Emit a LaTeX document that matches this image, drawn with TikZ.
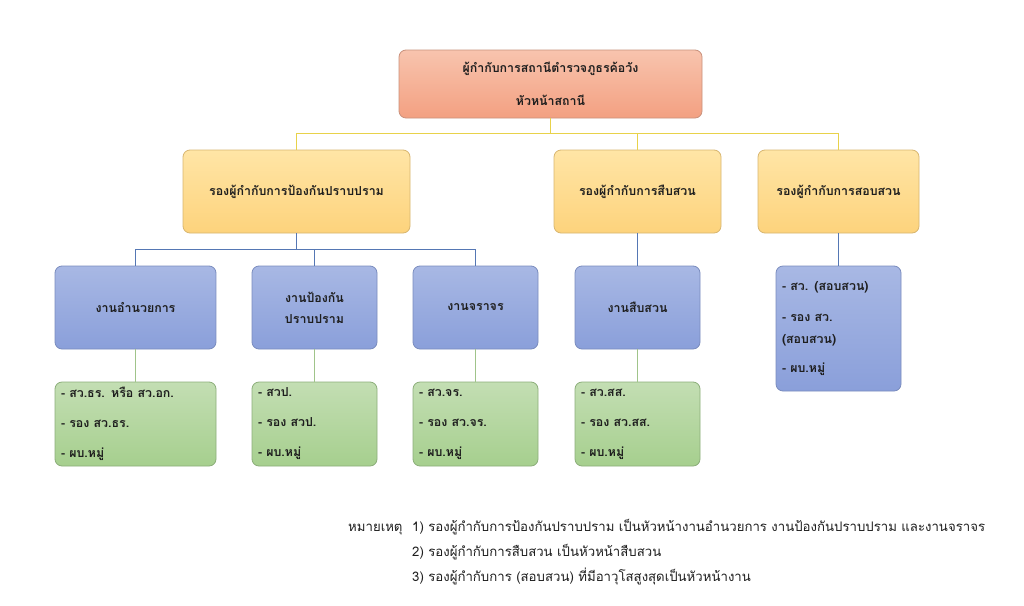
\documentclass[tikz,border=0pt]{standalone}
\usepackage{fontspec}
\newfontfamily\thai[Script=Thai]{Loma}
\definecolor{txt}{HTML}{1E1E1E}
\definecolor{redT}{HTML}{F8C4AE}
\definecolor{redB}{HTML}{F3A081}
\definecolor{redD}{HTML}{C9917C}
\definecolor{yelT}{HTML}{FFE5A6}
\definecolor{yelB}{HTML}{FDD37C}
\definecolor{yelD}{HTML}{D8B670}
\definecolor{bluT}{HTML}{A8B8E4}
\definecolor{bluB}{HTML}{8A9FDA}
\definecolor{bluD}{HTML}{7A8CBE}
\definecolor{grnT}{HTML}{C3DEB3}
\definecolor{grnB}{HTML}{A6CF8E}
\definecolor{grnD}{HTML}{8CAE7A}
\definecolor{ylin}{HTML}{E8D24A}
\definecolor{blin}{HTML}{5577B4}
\definecolor{glin}{HTML}{A0C48A}
\tikzset{
  box/.style={rectangle, rounded corners=7pt, line width=0.8pt, text=txt, inner sep=0pt,
    font=\thai\bfseries\fontsize{12.4}{21}\selectfont, align=center},
  topbox/.style={box, draw=redD, top color=redT, bottom color=redB, minimum width=303pt, minimum height=68pt, font=\thai\bfseries\fontsize{12.4}{33}\selectfont},
  ybox/.style={box, draw=yelD, top color=yelT, bottom color=yelB, minimum height=83pt},
  bbox/.style={box, draw=bluD, top color=bluT, bottom color=bluB, minimum height=83pt, minimum width=125pt},
  gbox/.style={box, draw=grnD, top color=grnT, bottom color=grnB, minimum height=84pt, minimum width=125pt,
    align=left, font=\thai\bfseries\fontsize{12.4}{30}\selectfont},
  yl/.style={draw=ylin, line width=1pt},
  bl/.style={draw=blin, line width=1pt},
  gl/.style={draw=glin, line width=1pt},
  note/.style={anchor=base west, inner sep=0pt, text=txt, font=\thai\fontsize{13.2}{15}\selectfont}
}
\begin{document}
\begin{tikzpicture}[x=1pt,y=-1pt]
\useasboundingbox[fill=white] (0,0) rectangle (1024,605);
% level 1
\node[topbox] (top) at (550.5,84) {ผู้กำกับการสถานีตำรวจภูธรค้อวัง\\หัวหน้าสถานี};
% level 2
\node[ybox, minimum width=227pt] (A) at (296.5,191.5) {รองผู้กำกับการป้องกันปราบปราม};
\node[ybox, minimum width=167pt] (B) at (637.5,191.5) {รองผู้กำกับการสืบสวน};
\node[ybox, minimum width=161pt] (C) at (838.5,191.5) {รองผู้กำกับการสอบสวน};
% level 3
\node[bbox, minimum width=161pt] (b1) at (135.5,307.5) {งานอำนวยการ};
\node[bbox] (b2) at (314.5,307.5) {งานป้องกัน\\ปราบปราม};
\node[bbox] (b3) at (475.5,307.5) {งานจราจร};
\node[bbox] (b4) at (637.5,307.5) {งานสืบสวน};
\node[bbox, minimum height=125pt, align=left, text width=113pt] (b5) at (838.5,328.5)
  {\fontsize{12.4}{22}\selectfont - สว. (สอบสวน)\\[9pt]- รอง สว.\\(สอบสวน)\\[8pt]- ผบ.หมู่};
% level 4
\node[gbox, minimum width=161pt, text width=149pt] (g1) at (135.5,424) {- สว.ธร. หรือ สว.อก.\\- รอง สว.ธร.\\- ผบ.หมู่};
\node[gbox, text width=113pt] (g2) at (314.5,424) {- สวป.\\- รอง สวป.\\- ผบ.หมู่};
\node[gbox, text width=113pt] (g3) at (475.5,424) {- สว.จร.\\- รอง สว.จร.\\- ผบ.หมู่};
\node[gbox, text width=113pt] (g4) at (637.5,424) {- สว.สส.\\- รอง สว.สส.\\- ผบ.หมู่};
% connectors
\draw[yl] (top.south) -- (top.south |- 0,133) -| (A.north);
\draw[yl] (top.south) -- (top.south |- 0,133) -| (B.north);
\draw[yl] (top.south) -- (top.south |- 0,133) -| (C.north);
\draw[bl] (A.south) -- (A.south |- 0,249) -| (b1.north);
\draw[bl] (A.south) -- (A.south |- 0,249) -| (b2.north);
\draw[bl] (A.south) -- (A.south |- 0,249) -| (b3.north);
\draw[bl] (B.south) -- (b4.north);
\draw[bl] (C.south) -- (b5.north);
\draw[gl] (b1.south) -- (g1.north);
\draw[gl] (b2.south) -- (g2.north);
\draw[gl] (b3.south) -- (g3.north);
\draw[gl] (b4.south) -- (g4.north);
% notes
\node[note] (n0) at (348,531) {หมายเหตุ};
\node[note] (n1) at (412,531) {1) รองผู้กำกับการป้องกันปราบปราม เป็นหัวหน้างานอำนวยการ งานป้องกันปราบปราม และงานจราจร};
\node[note] (n2) at (412,556) {2) รองผู้กำกับการสืบสวน เป็นหัวหน้าสืบสวน};
\node[note] (n3) at (412,581) {3) รองผู้กำกับการ (สอบสวน) ที่มีอาวุโสสูงสุดเป็นหัวหน้างาน};
\end{tikzpicture}
\end{document}
